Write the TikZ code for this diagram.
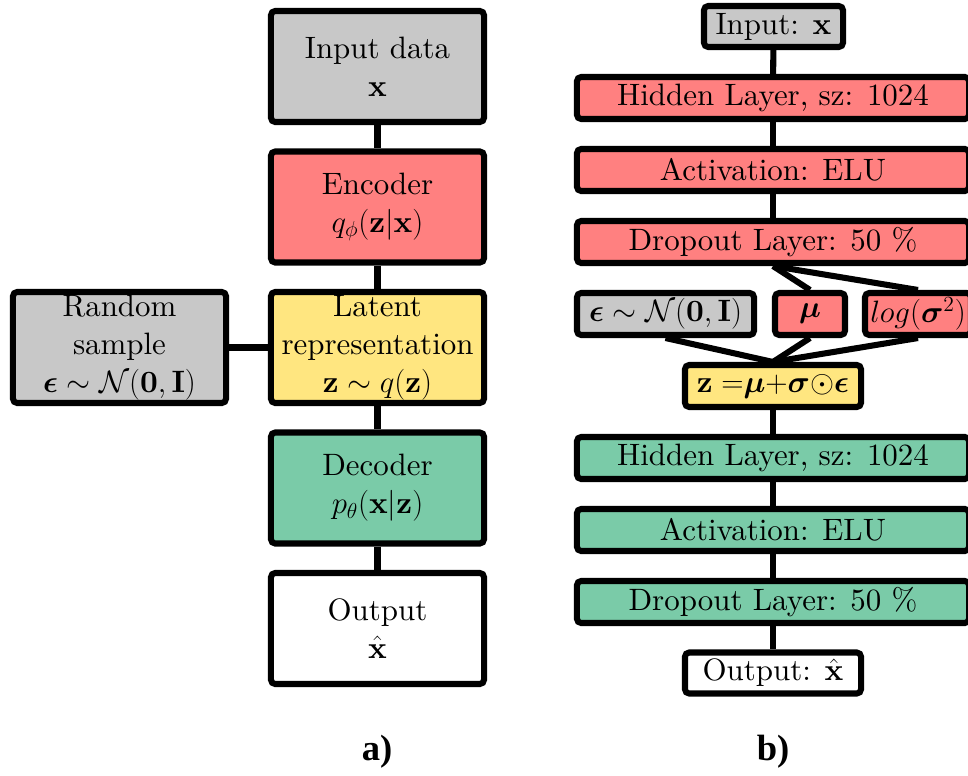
\RequirePackage{fix-cm}
\documentclass[tikz,border=0pt]{standalone}
\usepackage{amsmath}
\usepackage{fontspec}
\setmainfont{lmroman10-regular.otf}[BoldFont=lmroman10-bold.otf]
\newfontfamily\lblfont{Liberation Serif}[BoldFont={Liberation Serif Bold}]
\definecolor{ingray}{HTML}{C8C8C8}
\definecolor{encred}{HTML}{FF8080}
\definecolor{latyellow}{HTML}{FFE680}
\definecolor{decgreen}{HTML}{7ACBA8}

\begin{document}
\begin{tikzpicture}[x=0.025cm, y=-0.025cm, line width=4.3pt,
  box/.style={draw, rounded corners=3pt, align=center, inner sep=0pt,
    font=\fontsize{22}{27}\selectfont},
  bigbox/.style={box, minimum width=5.325cm, minimum height=2.775cm},
  layer/.style={box, minimum width=9.8cm, minimum height=1.05cm},
  panel/.style={font=\lblfont\bfseries\fontsize{26}{30}\selectfont}]
  \clip (0,0) rectangle (968,776);

  % a) the model
  \node[bigbox, fill=ingray] (in) at (377.5,66.5) {Input data\\ $\mathbf{x}$};
  \node[bigbox, fill=encred] (enc) at (377.5,207) {Encoder\\ $q_\phi(\mathbf{z}|\mathbf{x})$};
  \node[bigbox, fill=latyellow] (lat) at (377.5,347.5) {Latent\\ representation\\ $\mathbf{z}\sim q(\mathbf{z})$};
  \node[bigbox, fill=decgreen] (dec) at (377.5,488) {Decoder\\ $p_\theta(\mathbf{x}|\mathbf{z})$};
  \node[bigbox, fill=white] (out) at (377.5,628.5) {Output\\ $\hat{\mathbf{x}}$};
  \node[bigbox, fill=ingray] (rnd) at (119.5,347.5) {Random\\ sample\\ $\boldsymbol{\epsilon}\sim\mathcal{N}(\mathbf{0},\mathbf{I})$};

  \draw (in) -- (enc);
  \draw (enc) -- (lat);
  \draw (lat) -- (dec);
  \draw (dec) -- (out);
  \draw (rnd) -- (lat);

  % b) the layers
  \node[box, fill=ingray, minimum width=3.475cm, minimum height=1.025cm] (inb) at (773.5,26.5) {Input: $\mathbf{x}$};
  \node[layer, fill=encred] (h1) at (773,98) {Hidden Layer, sz: 1024};
  \node[layer, fill=encred] (a1) at (773,170) {Activation: ELU};
  \node[layer, fill=encred] (d1) at (773,242) {Dropout Layer: 50 \%};
  \node[box, fill=ingray, minimum width=4.425cm, minimum height=1.05cm] (eps) at (665.5,314) {$\boldsymbol{\epsilon}\sim\mathcal{N}(\mathbf{0},\mathbf{I})$};
  \node[box, fill=encred, minimum width=1.75cm, minimum height=1.05cm] (mu) at (810,314) {$\boldsymbol{\mu}$};
  \node[box, fill=encred, minimum width=2.65cm, minimum height=1.05cm] (logv) at (918,314) {$log(\boldsymbol{\sigma}^2)$};
  \node[box, fill=latyellow, minimum width=4.4cm, minimum height=1.05cm] (z) at (773,386) {$\mathbf{z}\;{=}\boldsymbol{\mu}{+}\boldsymbol{\sigma}{\odot}\boldsymbol{\epsilon}$};
  \node[layer, fill=decgreen] (h2) at (773,458) {Hidden Layer, sz: 1024};
  \node[layer, fill=decgreen] (a2) at (773,530) {Activation: ELU};
  \node[layer, fill=decgreen] (d2) at (773,602) {Dropout Layer: 50 \%};
  \node[box, fill=white, minimum width=4.4cm, minimum height=1.025cm] (outb) at (773,673) {Output: $\hat{\mathbf{x}}$};

  \draw (inb) -- (h1);
  \draw (h1) -- (a1);
  \draw (a1) -- (d1);
  \draw (d1.south) -- (mu.north);
  \draw (d1.south) -- (logv.north);
  \draw (eps.south) -- (z.north);
  \draw (mu.south) -- (z.north);
  \draw (logv.south) -- (z.north);
  \draw (z) -- (h2);
  \draw (h2) -- (a2);
  \draw (a2) -- (d2);
  \draw (d2) -- (outb);

  \node[panel] (la) at (377,752) {a)};
  \node[panel] (lb) at (773,752) {b)};
\end{tikzpicture}
\end{document}
